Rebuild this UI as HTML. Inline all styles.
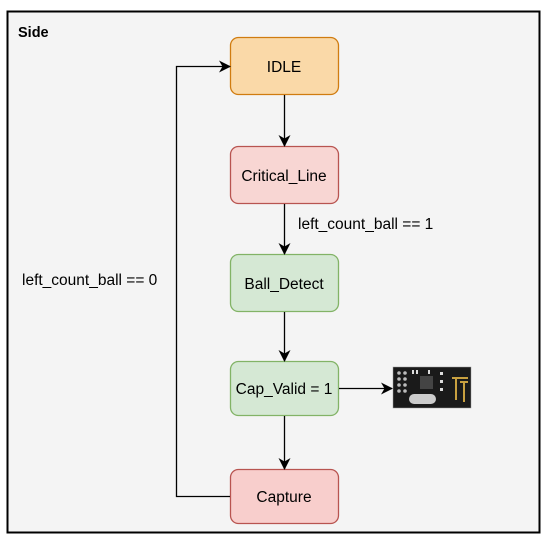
<!DOCTYPE html>
<html><head><style>
body{margin:0;background:#fff;width:549px;height:547px;overflow:hidden;font-family:"Liberation Sans",Arial,sans-serif}
</style></head><body>
<svg width="549" height="547" xmlns="http://www.w3.org/2000/svg" font-family="Liberation Sans, Arial, sans-serif">
<defs><marker id="a" markerWidth="12" markerHeight="12" refX="11" refY="6" orient="auto" markerUnits="userSpaceOnUse"><path d="M0,0 L12,6 L0,12 L3.5,6 z" fill="#000"/></marker></defs>
<rect x="7.5" y="11.5" width="532" height="521" fill="#f4f4f4" stroke="#000" stroke-width="2"/>
<text x="18" y="37" font-size="14.5" font-weight="bold">Side</text>
<g stroke-width="1.3">
<rect x="230.5" y="37.5" width="108" height="57" rx="8" fill="#fad9a8" stroke="#d07c10"/>
<rect x="230.5" y="146.5" width="108" height="57" rx="8" fill="#f8d6d3" stroke="#b85450"/>
<rect x="230.5" y="254.5" width="108" height="57" rx="8" fill="#d5e8d4" stroke="#82b366"/>
<rect x="230.5" y="361.5" width="108" height="54" rx="8" fill="#d5e8d4" stroke="#82b366"/>
<rect x="230.5" y="469.5" width="108" height="54" rx="8" fill="#f8cecc" stroke="#b85450"/>
</g>
<g font-size="15.5" text-anchor="middle" fill="#000">
<text x="284" y="72">IDLE</text>
<text x="284" y="181">Critical_Line</text>
<text x="284" y="289">Ball_Detect</text>
<text x="284" y="394">Cap_Valid = 1</text>
<text x="284" y="502">Capture</text>
</g>
<g stroke="#000" stroke-width="1.3" fill="none" marker-end="url(#a)">
<path d="M284.5 95 V146"/>
<path d="M284.5 204 V254"/>
<path d="M284.5 312 V361"/>
<path d="M284.5 416 V469"/>
<path d="M339 388.5 H392"/>
<path d="M230 496.5 H176.5 V66.5 H230"/>
</g>
<text x="298" y="229" font-size="15.5">left_count_ball == 1</text>
<text x="22" y="285" font-size="15.5">left_count_ball == 0</text>
<g>
<rect x="393" y="367" width="78" height="41" fill="#1a1a1a" stroke="#999" stroke-width="0.5"/>
<g fill="#bbb"><circle cx="399" cy="373" r="1.8"/><circle cx="405" cy="373" r="1.8"/><circle cx="399" cy="379" r="1.8"/><circle cx="405" cy="379" r="1.8"/><circle cx="399" cy="385" r="1.8"/><circle cx="405" cy="385" r="1.8"/><circle cx="399" cy="391" r="1.8"/><circle cx="405" cy="391" r="1.8"/></g>
<rect x="420" y="376" width="13" height="13" fill="#444"/>
<rect x="409" y="394" width="27" height="10" rx="5" fill="#ccc"/>
<path d="M452 378 H468 M456 378 V400 M460 382 H468 M464 382 V402" stroke="#c8a040" stroke-width="2" fill="none"/>
<g fill="#ddd"><rect x="440" y="372" width="3" height="3"/><rect x="440" y="380" width="3" height="3"/><rect x="440" y="388" width="3" height="3"/><rect x="412" y="370" width="2" height="4"/><rect x="416" y="370" width="2" height="4"/><rect x="428" y="370" width="2" height="4"/></g>
</g>
</svg>
</body></html>
